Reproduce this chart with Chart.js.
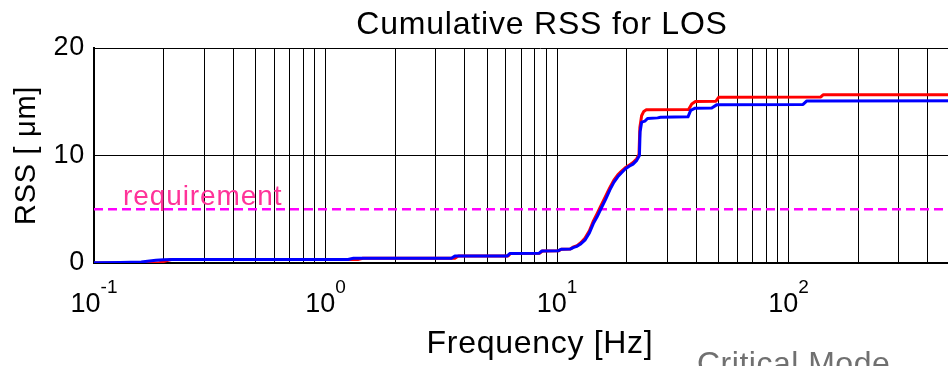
<!DOCTYPE html>
<html>
<head>
<meta charset="utf-8">
<script src="https://cdn.jsdelivr.net/npm/chart.js@4"></script>
<style>
  html, body { margin: 0; padding: 0; overflow: hidden; background: #fff; }
  #wrap { position: relative; width: 1000px; height: 400px; }
</style>
</head>
<body>
<div id="wrap"><canvas id="c"></canvas></div>
<script>
// Cumulative RSS of line-of-sight jitter against frequency (two model runs)
const freqRed = [0.1, 0.19, 0.205, 0.215, 1.38, 1.45, 3.62, 3.75, 6.15, 6.3, 8.4, 8.65, 10.15, 10.45, 11.4, 11.8,
  12.2, 12.7, 13.2, 13.8, 14.35, 14.9, 15.5, 16.2, 16.9, 17.6, 18.3, 19.0, 19.7, 20.5, 21.3, 22.1, 22.6, 22.8,
  23.2, 23.7, 24.3, 37.0, 38.2, 39.6, 48.6, 50.0, 138, 141, 713];
const rssRed = [0.0, 0.01, 0.2, 0.32, 0.33, 0.44, 0.45, 0.65, 0.66, 0.88, 0.9, 1.12, 1.13, 1.28, 1.3, 1.5,
  1.62, 1.9, 2.3, 3.0, 3.9, 4.6, 5.35, 6.2, 7.0, 7.7, 8.2, 8.55, 8.85, 9.1, 9.35, 9.7, 10.1, 12.6,
  13.7, 14.1, 14.25, 14.28, 14.8, 15.02, 15.05, 15.43, 15.45, 15.64, 15.65];

const freqBlue = [0.1, 0.13, 0.16, 0.185, 0.2, 0.22, 1.25, 1.32, 3.5, 3.62, 6.1, 6.25, 8.35, 8.6, 10.1, 10.4,
  11.4, 11.8, 12.2, 12.7, 13.2, 13.8, 14.35, 14.9, 15.5, 16.2, 16.9, 17.6, 18.3, 19.0, 19.7, 20.5, 21.3, 22.1,
  22.7, 22.85, 23.2, 24.0, 24.6, 27.2, 28.0, 36.8, 37.8, 39.5, 46.6, 48.9, 115.6, 120, 713];
const rssBlue = [0.03, 0.05, 0.10, 0.25, 0.31, 0.33, 0.33, 0.44, 0.45, 0.65, 0.66, 0.88, 0.9, 1.12, 1.13, 1.28,
  1.3, 1.45, 1.55, 1.8, 2.12, 2.8, 3.67, 4.3, 5.07, 5.9, 6.78, 7.5, 8.02, 8.4, 8.74, 9.0, 9.2, 9.55,
  10.0, 12.2, 13.1, 13.2, 13.45, 13.5, 13.56, 13.6, 14.2, 14.4, 14.42, 14.71, 14.75, 15.08, 15.1];

const requirementLevel = 5;
const requirementText = 'requirement';

const xMin = 0.1;
const xMax = 713;
const yTicks = [0, 10, 20];
const xGridValues = [0.1, 0.2, 0.3, 0.4, 0.5, 0.6, 0.7, 0.8, 0.9,
  1, 2, 3, 4, 5, 6, 7, 8, 9,
  10, 20, 30, 40, 50, 60, 70, 80, 90,
  100, 200, 300, 400, 500, 600, 700];
const decadeValues = [0.1, 1, 10, 100];
const decadeExponents = ['-1', '0', '1', '2'];

const FONT = "'Liberation Sans', Arial, Helvetica, sans-serif";
Chart.defaults.font.family = FONT;
Chart.defaults.color = '#000';

const toPoints = (xs, ys) => xs.map((x, i) => ({ x, y: ys[i] }));

// Slightly looser letter spacing for all canvas text
const textSpacing = {
  id: 'textSpacing',
  beforeDraw(chart) { chart.ctx.letterSpacing = '0.7px'; }
};

// Title above the axes box, centred on the plot area
const plotTitle = {
  id: 'plotTitle',
  afterDraw(chart) {
    const { ctx, chartArea } = chart;
    ctx.save();
    ctx.letterSpacing = '0.8px';
    ctx.font = '32px ' + FONT;
    ctx.fillStyle = '#000';
    ctx.textAlign = 'center';
    ctx.textBaseline = 'alphabetic';
    ctx.fillText('Cumulative RSS for LOS', (chartArea.left + chartArea.right) / 2 + 2, chartArea.top - 14.5);
    ctx.restore();
  }
};

// Power-of-ten labels under the log axis
const decadeLabels = {
  id: 'decadeLabels',
  afterDraw(chart) {
    const { ctx, chartArea } = chart;
    const xs = chart.scales.x;
    ctx.save();
    ctx.letterSpacing = '0px';
    ctx.fillStyle = '#000';
    ctx.textAlign = 'left';
    ctx.textBaseline = 'alphabetic';
    decadeValues.forEach((v, i) => {
      const px = xs.getPixelForValue(v);
      ctx.font = '27px ' + FONT;
      const wBase = ctx.measureText('10').width;
      ctx.font = '19px ' + FONT;
      const wExp = ctx.measureText(decadeExponents[i]).width;
      const x0 = px - (wBase + wExp) / 2;
      ctx.font = '27px ' + FONT;
      ctx.fillText('10', x0, chartArea.bottom + 48.5);
      ctx.font = '19px ' + FONT;
      ctx.fillText(decadeExponents[i], x0 + wBase, chartArea.bottom + 29.5);
    });
    ctx.restore();
  }
};

// Label sitting on the requirement line
const requirementLabel = {
  id: 'requirementLabel',
  afterDatasetsDraw(chart) {
    const { ctx, chartArea } = chart;
    const y = chart.scales.y.getPixelForValue(requirementLevel);
    ctx.save();
    ctx.letterSpacing = '0.9px';
    ctx.font = '28px ' + FONT;
    ctx.fillStyle = '#ff3399';
    ctx.textAlign = 'left';
    ctx.textBaseline = 'alphabetic';
    ctx.fillText(requirementText, chartArea.left + 29, y - 4.5);
    ctx.restore();
  }
};

// Caption text below the figure
const caption = {
  id: 'caption',
  afterDraw(chart) {
    const { ctx } = chart;
    ctx.save();
    ctx.letterSpacing = '0.5px';
    ctx.font = '32px ' + FONT;
    ctx.fillStyle = '#707070';
    ctx.textAlign = 'left';
    ctx.textBaseline = 'alphabetic';
    ctx.fillText('Critical Mode', 697, 374);
    ctx.restore();
  }
};

new Chart(document.getElementById('c'), {
  type: 'line',
  data: {
    datasets: [
      {
        data: toPoints(freqBlue, rssBlue),
        borderColor: '#0000ff',
        borderWidth: 3,
        pointRadius: 0,
        tension: 0,
        fill: false,
        borderJoinStyle: 'round'
      },
      {
        data: toPoints(freqRed, rssRed),
        borderColor: '#ff0000',
        borderWidth: 3,
        pointRadius: 0,
        tension: 0,
        fill: false,
        borderJoinStyle: 'round'
      },
      {
        data: toPoints([xMin, xMax], [requirementLevel, requirementLevel]),
        borderColor: '#ff00ff',
        borderWidth: 2.5,
        borderDash: [9, 5],
        pointRadius: 0,
        tension: 0,
        fill: false
      }
    ]
  },
  options: {
    responsive: true,
    maintainAspectRatio: false,
    animation: false,
    events: [],
    layout: { padding: { left: 0, top: 48, right: 14, bottom: 0 } },
    plugins: {
      legend: { display: false },
      tooltip: { enabled: false },
      title: { display: false }
    },
    scales: {
      x: {
        type: 'logarithmic',
        min: xMin,
        max: xMax,
        afterBuildTicks: (s) => { s.ticks = xGridValues.map(v => ({ value: v })); },
        afterFit: (s) => { s.height = 137; },
        ticks: { display: false },
        grid: { color: '#000', lineWidth: 1, drawTicks: false },
        border: { color: '#000', width: 2 },
        title: {
          display: true,
          text: 'Frequency [Hz]',
          color: '#000',
          font: { size: 32 },
          padding: { top: 0, bottom: 37 }
        }
      },
      y: {
        min: 0,
        max: 20,
        afterBuildTicks: (s) => { s.ticks = yTicks.map(v => ({ value: v })); },
        afterFit: (s) => { s.width = 94; },
        ticks: { color: '#000', font: { size: 27 }, padding: 9 },
        grid: { color: '#000', lineWidth: 1, drawTicks: false },
        border: { color: '#000', width: 2 },
        title: {
          display: true,
          text: 'RSS [ μm]',
          color: '#000',
          font: { size: 29 },
          padding: { top: 10, bottom: 0 }
        }
      }
    }
  },
  plugins: [textSpacing, plotTitle, decadeLabels, requirementLabel, caption]
});
</script>
</body>
</html>
